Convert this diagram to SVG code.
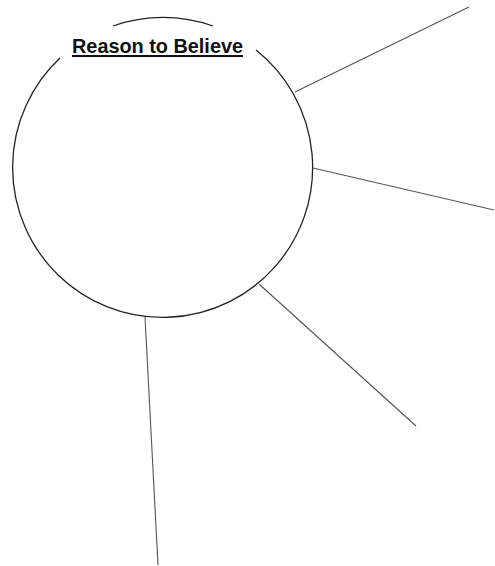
<svg xmlns="http://www.w3.org/2000/svg" width="495" height="566" viewBox="0 0 495 566">
<style>
.ring{fill:none;stroke:#222;stroke-width:1.3}
.spoke{stroke:#555;stroke-width:1.1;fill:none}
.title{font-family:"Liberation Sans",Arial,sans-serif;font-weight:bold;font-size:20.5px;fill:#111;text-decoration:underline}
</style>
<rect width="495" height="566" fill="#fff"/>
<g id="circle">
<path class="ring" d="M60,58 A150,150 0 1 0 256,50"/>
<path class="ring" d="M113,26 A150,150 0 0 1 213,26"/>
<text class="title" x="72" y="53" textLength="171" lengthAdjust="spacingAndGlyphs">Reason to Believe</text>
</g>
<g id="connectors">
<line class="spoke" x1="295" y1="92" x2="469" y2="7"/>
<line class="spoke" x1="313" y1="168" x2="494" y2="210"/>
<line class="spoke" x1="259" y1="284" x2="416" y2="426"/>
<line class="spoke" x1="145" y1="317" x2="158" y2="565"/>
</g>
</svg>
